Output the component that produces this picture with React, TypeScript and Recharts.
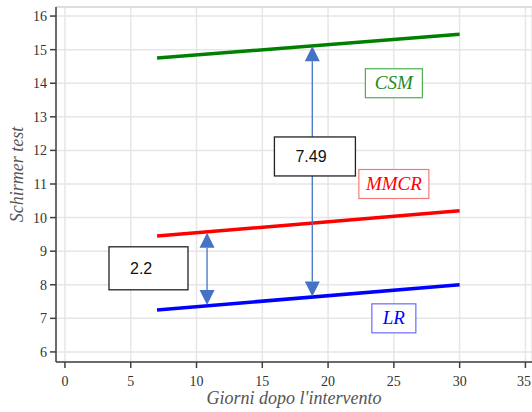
import React from "react";
import {
	LineChart,
	Line,
	XAxis,
	YAxis,
	CartesianGrid,
	ReferenceLine,
	ReferenceDot,
} from "recharts";

// giorni dopo l'intervento
const days = [7, 30];
const csm = [14.75, 15.46];
const mmcr = [9.45, 10.2];
const lr = [7.25, 8.0];

const xTicks = [0, 5, 10, 15, 20, 25, 30, 35];
const yTicks = [6, 7, 8, 9, 10, 11, 12, 13, 14, 15, 16];

// arrow annotations: [x, top, bottom]
const bigArrow = [18.8, 15.1, 7.65];
const smallArrow = [10.8, 9.55, 7.4];

// value boxes: [x, y, text]
const boxes: [number, number, string][] = [
	[19.0, 11.82, "7.49"],
	[6.35, 8.49, "2.2"],
];

const groups = [
	{ name: "CSM", x: 25, y: 14, color: "#1e8c1e", border: "#4caf50" },
	{ name: "MMCR", x: 25, y: 11, color: "#ff0000", border: "#f47a7a" },
	{ name: "LR", x: 25, y: 7, color: "#0000ff", border: "#6b6bff" },
];

const data = days.map((d, i) => ({ day: d, CSM: csm[i], MMCR: mmcr[i], LR: lr[i] }));

const SERIF = '"Liberation Serif", "DejaVu Serif", serif';
const ARROW_COLOR = "#4472C4";

function XTick(props: any) {
	const { x, y, payload } = props;
	return (
		<text x={x} y={y + 13} textAnchor="middle" fontFamily={SERIF} fontSize={14} fill="#333">
			{payload.value}
		</text>
	);
}

function YTick(props: any) {
	const { x, y, payload } = props;
	return (
		<text x={x} y={y + 5} textAnchor="end" fontFamily={SERIF} fontSize={14} fill="#333">
			{payload.value}
		</text>
	);
}

function Arrow(props: any) {
	const { x1, y1, x2, y2 } = props;
	const x = (x1 + x2) / 2;
	const top = Math.min(y1, y2);
	const bottom = Math.max(y1, y2);
	const head = 15;
	const half = 7.5;
	return (
		<g>
			<line x1={x} y1={top + head} x2={x} y2={bottom - head} stroke={ARROW_COLOR} strokeWidth={1.3} />
			<polygon points={`${x},${top} ${x - half},${top + head} ${x + half},${top + head}`} fill={ARROW_COLOR} />
			<polygon points={`${x},${bottom} ${x - half},${bottom - head} ${x + half},${bottom - head}`} fill={ARROW_COLOR} />
		</g>
	);
}

function ValueBox(props: any, w: number, h: number, text: string) {
	const { cx, cy } = props;
	return (
		<g>
			<rect x={cx - w / 2} y={cy - h / 2} width={w} height={h} fill="#fff" stroke="#222" strokeWidth={1.3} />
			<text x={cx - w / 2 + 21} y={cy + 6} fontFamily='"Liberation Sans", Arial, sans-serif' fontSize={16} fill="#111">
				{text}
			</text>
		</g>
	);
}

function GroupLabel(props: any, name: string, color: string, border: string) {
	const { cx, cy } = props;
	const w = name.length * 13 + 18;
	const h = 29;
	return (
		<g>
			<rect x={cx - w / 2} y={cy - h / 2} width={w} height={h} fill="#fff" stroke={border} strokeWidth={1.2} />
			<text x={cx} y={cy + 6} textAnchor="middle" fontFamily={SERIF} fontStyle="italic" fontSize={19} fill={color}>
				{name}
			</text>
		</g>
	);
}

export default function App() {
	return (
		<div style={{ position: "absolute", left: 0, top: 0, background: "#fff", fontFamily: SERIF }}>
			<LineChart width={532} height={412} data={data} margin={{ top: 7, right: 0, bottom: 0, left: 0 }}>
				<CartesianGrid stroke="#e6e6e6" strokeWidth={1.5} />
				<XAxis
					dataKey="day"
					type="number"
					domain={[-0.68, 35.5]}
					ticks={xTicks}
					allowDataOverflow
					height={50}
					tick={XTick}
					tickSize={6}
					tickMargin={5}
					stroke="#404040"
					strokeWidth={1.5}
					label={{
						value: "Giorni dopo l'intervento",
						position: "insideBottom",
						offset: 8,
						style: { fontFamily: SERIF, fontStyle: "italic", fontSize: 18, fill: "#555" },
					}}
				/>
				<YAxis
					type="number"
					domain={[5.7, 16.27]}
					ticks={yTicks}
					allowDataOverflow
					width={56}
					tick={YTick}
					tickSize={6}
					tickMargin={3}
					stroke="#404040"
					strokeWidth={1.5}
					label={{
						content: ({ viewBox }: any) => {
							const x = viewBox.x + 23;
							const y = viewBox.y + viewBox.height / 2 - 10;
							return (
								<text
									x={x}
									y={y}
									transform={`rotate(-90, ${x}, ${y})`}
									textAnchor="middle"
									fontFamily={SERIF}
									fontStyle="italic"
									fontSize={18}
									fill="#555"
								>
									Schirmer test
								</text>
							);
						},
					}}
				/>
				<ReferenceLine y={16.27} stroke="#dddddd" strokeWidth={2} />
				<Line dataKey="CSM" stroke="#008000" strokeWidth={3.5} dot={false} isAnimationActive={false} />
				<Line dataKey="MMCR" stroke="#ff0000" strokeWidth={3.5} dot={false} isAnimationActive={false} />
				<Line dataKey="LR" stroke="#0000ff" strokeWidth={3.5} dot={false} isAnimationActive={false} />
				<ReferenceLine
					segment={[{ x: bigArrow[0], y: bigArrow[1] }, { x: bigArrow[0], y: bigArrow[2] }]}
					shape={Arrow}
				/>
				<ReferenceLine
					segment={[{ x: smallArrow[0], y: smallArrow[1] }, { x: smallArrow[0], y: smallArrow[2] }]}
					shape={Arrow}
				/>
				<ReferenceDot x={boxes[0][0]} y={boxes[0][1]} shape={(p: any) => ValueBox(p, 81, 39, boxes[0][2])} />
				<ReferenceDot x={boxes[1][0]} y={boxes[1][1]} shape={(p: any) => ValueBox(p, 79, 43, boxes[1][2])} />
				{groups.map((g) => (
					<ReferenceDot
						key={g.name}
						x={g.x}
						y={g.y}
						shape={(p: any) => GroupLabel(p, g.name, g.color, g.border)}
					/>
				))}
			</LineChart>
		</div>
	);
}
